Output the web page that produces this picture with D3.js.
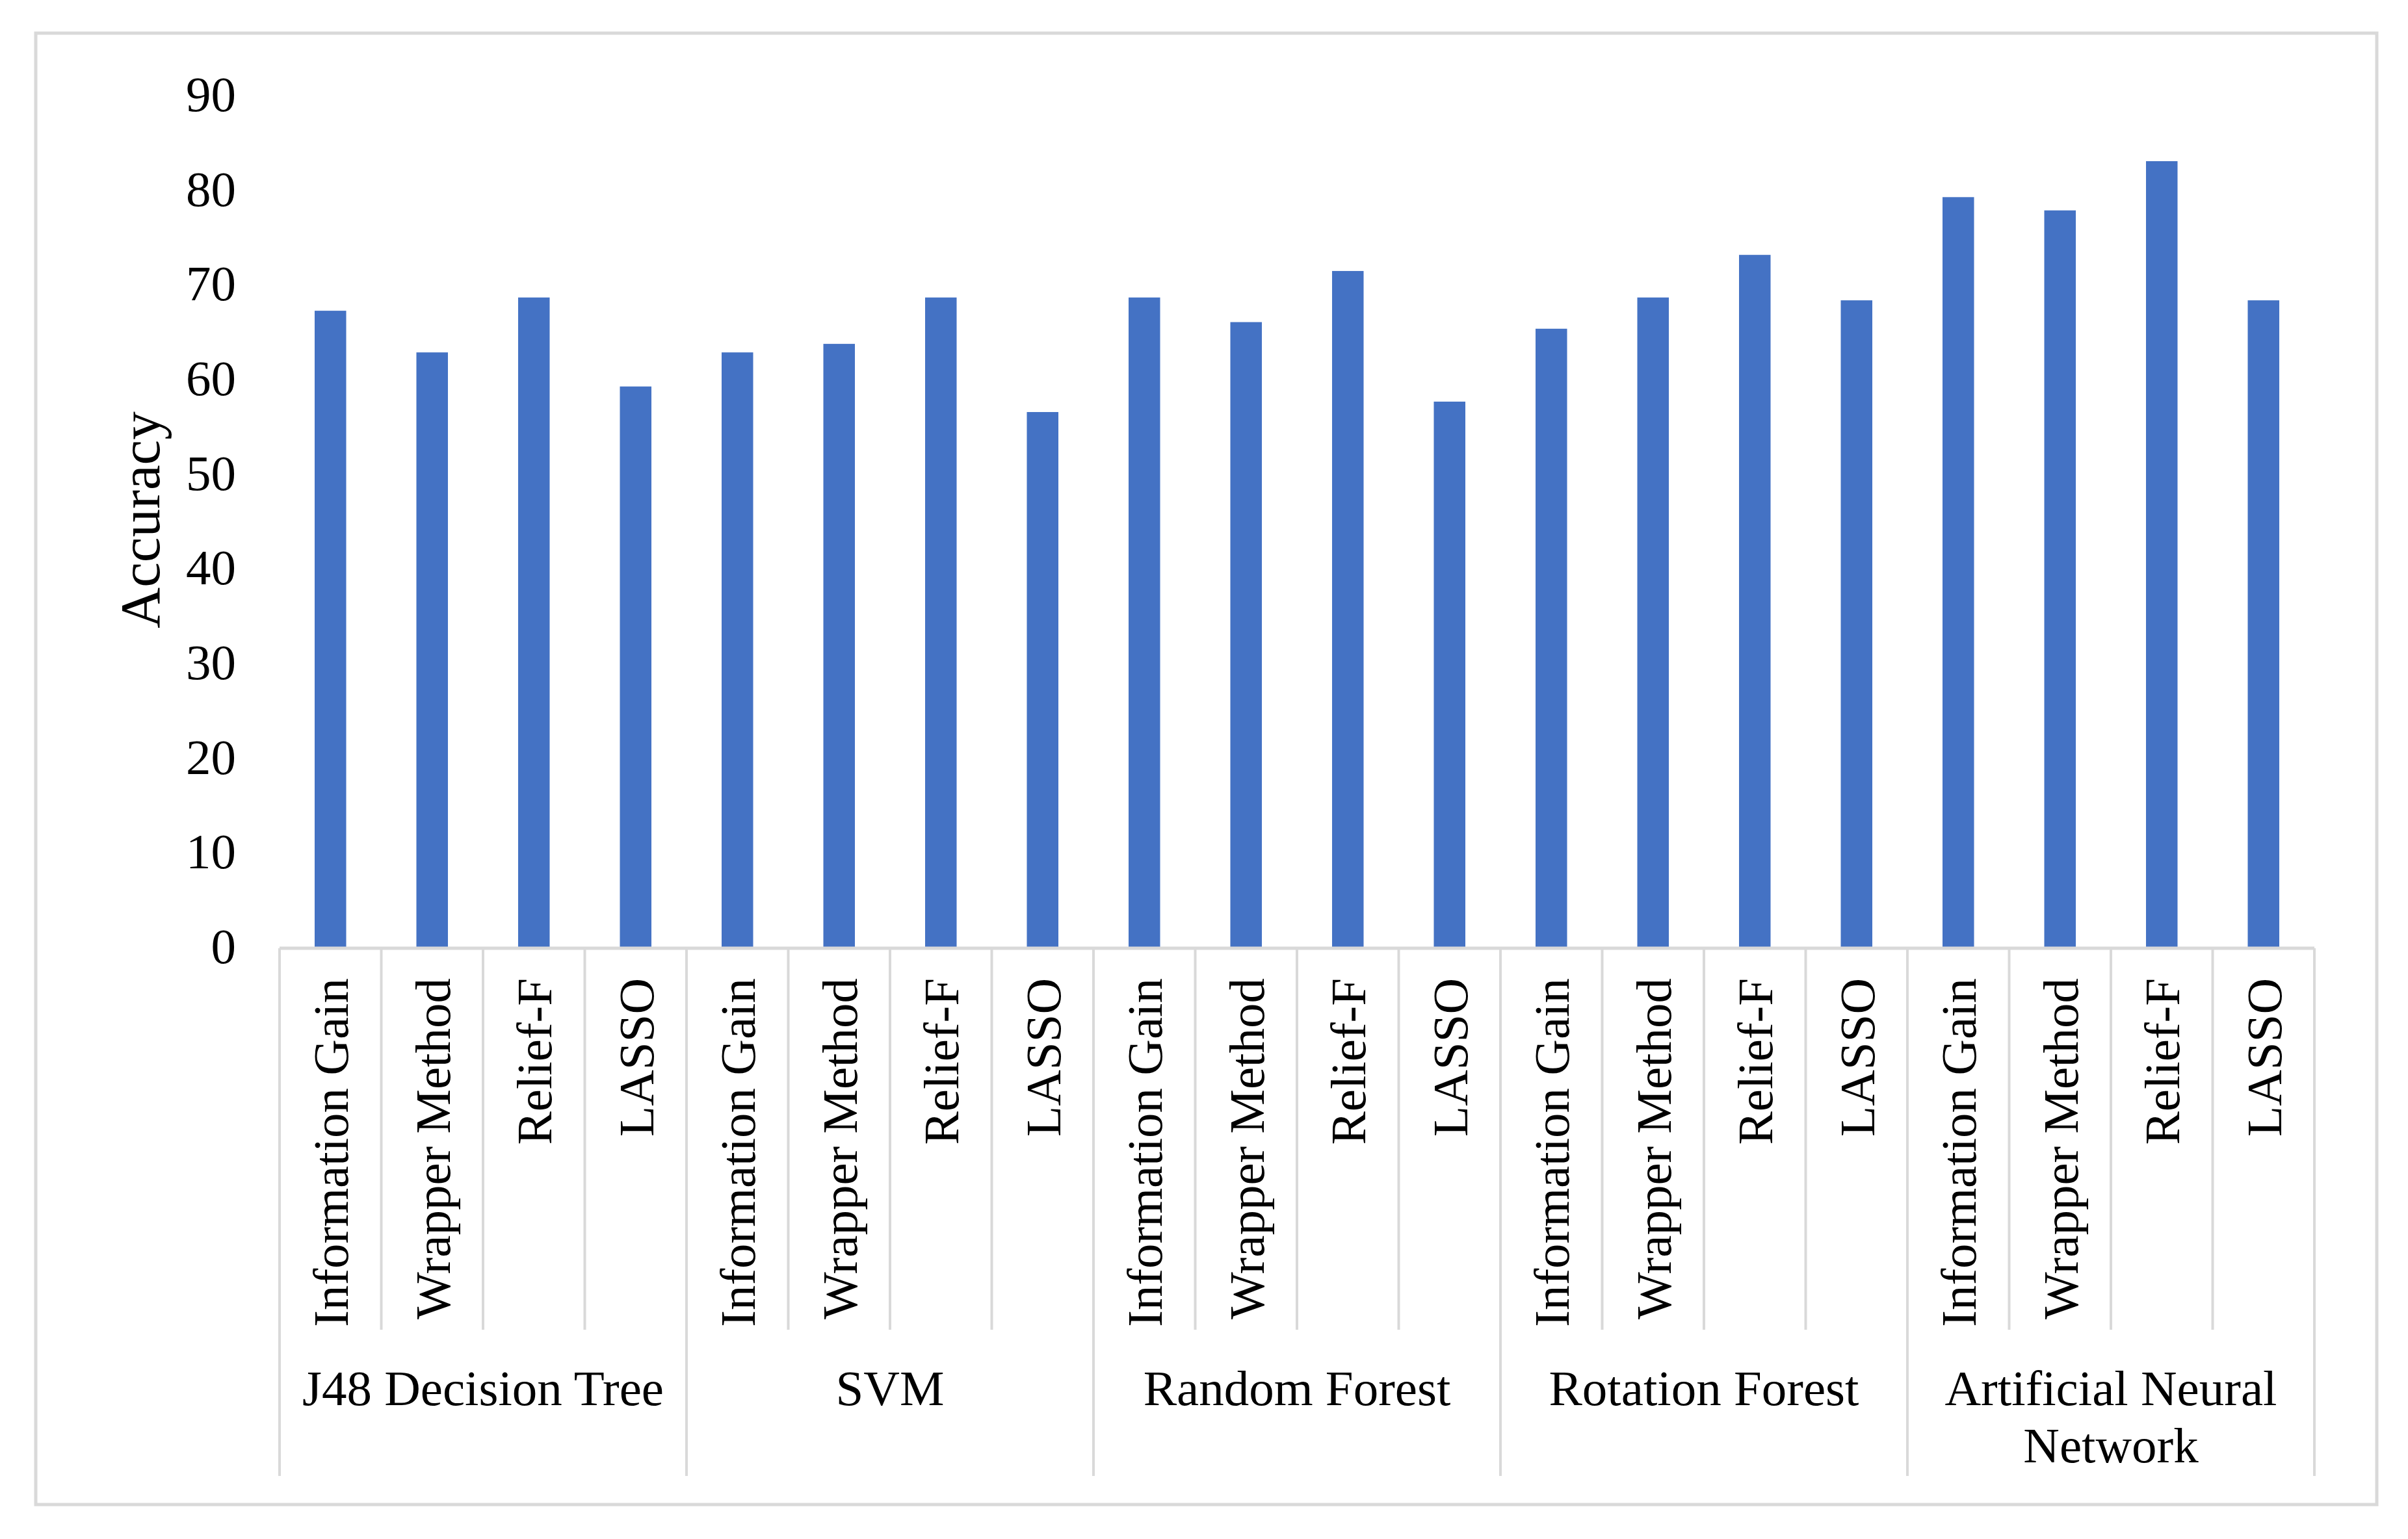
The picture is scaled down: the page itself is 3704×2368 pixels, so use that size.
<!DOCTYPE html>
<html>
<head>
<meta charset="utf-8">
<script src="https://cdn.jsdelivr.net/npm/d3@7"></script>
<style>
  body { margin: 0; background: #fff; }
  text { font-family: "Liberation Serif", "Times New Roman", serif; fill: #000; }
</style>
</head>
<body>
<div id="chart"></div>
<script>
// chart data
var groups = ["J48 Decision Tree", "SVM", "Random Forest", "Rotation Forest", "Artificial Neural Network"];
var methods = ["Information Gain", "Wrapper Method", "Relief-F", "LASSO"];
var j48Values = [67.2, 62.8, 68.6, 59.2];
var svmValues = [62.8, 63.7, 68.6, 56.5];
var rfValues = [68.6, 66.0, 71.4, 57.6];
var rotValues = [65.3, 68.6, 73.1, 68.3];
var annValues = [79.2, 77.8, 83.0, 68.3];
var yTicks = [0, 10, 20, 30, 40, 50, 60, 70, 80, 90];
var yTitle = "Accuracy";

var svgWidth = 3704;
var svgHeight = 2368;

var plot = { left: 430, right: 3560, top: 146, bottom: 1457 };
var fontSize = 77;

// flatten into one row per bar
var seriesByGroup = [j48Values, svmValues, rfValues, rotValues, annValues];
var rows = [];
groups.forEach(function(g, gi) {
  methods.forEach(function(m, mi) {
    rows.push({ group: g, gi: gi, method: m, value: seriesByGroup[gi][mi], idx: rows.length });
  });
});

var svg = d3.select("#chart")
  .append("svg")
  .attr("width", svgWidth)
  .attr("height", svgHeight);

svg.append("rect")
  .attr("width", svgWidth)
  .attr("height", svgHeight)
  .attr("fill", "#fff");

// outer frame
svg.append("rect")
  .attr("x", 55)
  .attr("y", 51)
  .attr("width", 3601)
  .attr("height", 2264)
  .attr("fill", "none")
  .attr("stroke", "#d9d9d9")
  .attr("stroke-width", 5);

var x = d3.scaleBand()
  .domain(rows.map(d => d.idx))
  .range([plot.left, plot.right])
  .paddingInner(0.69)
  .paddingOuter(0.345);

var xCat = d3.scaleBand()
  .domain(rows.map(d => d.idx))
  .range([plot.left, plot.right]);

var y = d3.scaleLinear()
  .domain([0, 90])
  .range([plot.bottom, plot.top]);

// y axis (labels only)
var leftAxis = d3.axisLeft(y)
  .tickValues(yTicks)
  .tickSize(0)
  .tickPadding(67);

var yAxis = svg.append("g")
  .attr("transform", `translate(${plot.left}, 0)`)
  .call(leftAxis);
yAxis.select(".domain").remove();
yAxis.selectAll("text")
  .attr("font-size", fontSize)
  .attr("font-family", "Liberation Serif")
  .attr("fill", "#000");

// bars
svg.selectAll("rect.bar")
  .data(rows)
  .enter()
  .append("rect")
  .attr("class", "bar")
  .attr("x", d => x(d.idx))
  .attr("width", x.bandwidth())
  .attr("y", d => y(d.value))
  .attr("height", d => y(0) - y(d.value))
  .attr("fill", "#4472c4");

// category axis line
svg.append("line")
  .attr("x1", plot.left)
  .attr("x2", plot.right)
  .attr("y1", plot.bottom + 2)
  .attr("y2", plot.bottom + 2)
  .attr("stroke", "#d9d9d9")
  .attr("stroke-width", 5);

var innerBottom = 2046;
var outerBottom = 2271;

// separators between methods and between groups
var bounds = d3.range(rows.length + 1);
svg.selectAll("line.sep")
  .data(bounds)
  .enter()
  .append("line")
  .attr("class", "sep")
  .attr("x1", i => plot.left + i * xCat.step())
  .attr("x2", i => plot.left + i * xCat.step())
  .attr("y1", plot.bottom + 2)
  .attr("y2", i => (i % methods.length === 0) ? outerBottom : innerBottom)
  .attr("stroke", "#d9d9d9")
  .attr("stroke-width", 4);

// method labels, rotated
svg.selectAll("text.method")
  .data(rows)
  .enter()
  .append("text")
  .attr("class", "method")
  .attr("transform", d => `translate(${xCat(d.idx) + xCat.bandwidth() / 2}, 1505) rotate(-90)`)
  .attr("text-anchor", "end")
  .attr("dy", "0.35em")
  .attr("font-size", fontSize)
  .text(d => d.method);

// group labels, wrapped to the group width
var groupWidth = xCat.step() * methods.length;
groups.forEach(function(g, gi) {
  var cx = plot.left + groupWidth * (gi + 0.5);
  var t = svg.append("text")
    .attr("text-anchor", "middle")
    .attr("font-size", fontSize);
  var words = g.split(" ");
  var lines = [];
  var line = [];
  words.forEach(function(w) {
    line.push(w);
    t.text(line.join(" "));
    if (t.node().getComputedTextLength() > groupWidth - 40 && line.length > 1) {
      line.pop();
      lines.push(line.join(" "));
      line = [w];
    }
  });
  lines.push(line.join(" "));
  t.text(null);
  lines.forEach(function(l, li) {
    t.append("tspan")
      .attr("x", cx)
      .attr("y", 2162 + li * 88)
      .text(l);
  });
});

// y axis title
svg.append("text")
  .attr("transform", "translate(245, 800) rotate(-90)")
  .attr("text-anchor", "middle")
  .attr("font-size", 87)
  .text(yTitle);
</script>
</body>
</html>
